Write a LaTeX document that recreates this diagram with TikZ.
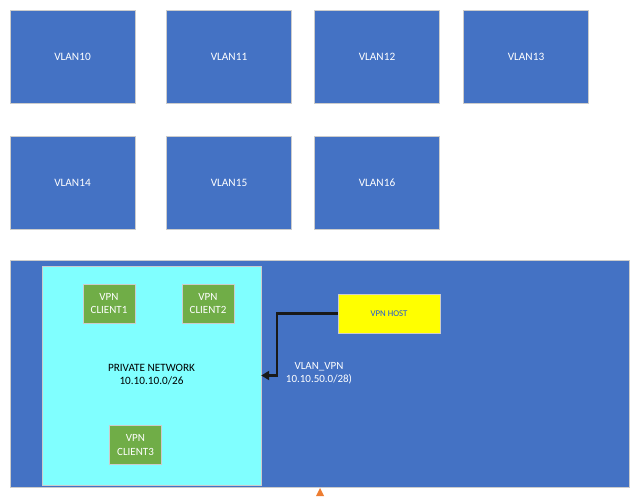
\documentclass[tikz,border=0pt]{standalone}
\usepackage{fontspec}
\setmainfont{Carlito}
\usetikzlibrary{arrows.meta}
\definecolor{vblue}{HTML}{4472C4}
\definecolor{vgreen}{HTML}{70AD47}
\definecolor{vcyan}{HTML}{80FFFF}
\definecolor{vyellow}{HTML}{FFFF00}
\definecolor{hosttext}{HTML}{1F55D8}
\definecolor{vorange}{HTML}{ED7D31}
\tikzset{
  vlanbox/.style={draw=black!20, fill=vblue, text=white, minimum width=125pt, minimum height=93pt, inner sep=0pt, font=\fontsize{11.3}{13}\selectfont},
  clientbox/.style={draw=black!20, fill=vgreen, text=white, minimum width=52pt, minimum height=39pt, inner sep=0pt, align=center, font=\fontsize{11}{13.5}\selectfont},
  wtext/.style={text=white, align=center, font=\fontsize{11}{13.5}\selectfont},
  btext/.style={text=black, align=center, font=\fontsize{11.2}{13.5}\selectfont},
  conn/.style={line width=2.2pt, draw=black!90, -{Triangle[length=8pt,width=9pt]}}
}
\begin{document}
\begin{tikzpicture}[x=1pt,y=-1pt]
\useasboundingbox[fill=white] (0,0) rectangle (643,500);
% VLAN boxes
\node[vlanbox] (v10) at (72.5,56.5) {VLAN10};
\node[vlanbox] (v11) at (229,56.5) {VLAN11};
\node[vlanbox] (v12) at (377,56.5) {VLAN12};
\node[vlanbox] (v13) at (526,56.5) {VLAN13};
\node[vlanbox] (v14) at (72.5,182.5) {VLAN14};
\node[vlanbox] (v15) at (229,182.5) {VLAN15};
\node[vlanbox] (v16) at (377,182.5) {VLAN16};
% VLAN_VPN area
\node[draw=black!20, fill=vblue, minimum width=619pt, minimum height=227pt, inner sep=0pt] (vpnarea) at (319.5,373.5) {};
\node[draw=black!20, fill=vcyan, minimum width=219pt, minimum height=219pt, inner sep=0pt] (priv) at (151.5,375.5) {};
\node[btext] (privlabel) at (151.5,374.5) {PRIVATE NETWORK\\10.10.10.0/26};
\node[clientbox] (c1) at (109,303.5) {VPN\\CLIENT1};
\node[clientbox] (c2) at (208,303.5) {VPN\\CLIENT2};
\node[clientbox] (c3) at (135.5,445) {VPN\\CLIENT3};
\node[draw=black!20, fill=vyellow, text=hosttext, minimum width=102pt, minimum height=39pt, inner sep=0pt, font=\fontsize{8.8}{10}\selectfont] (host) at (389,313.5) {VPN HOST};
\node[wtext] (vpnlabel) at (319,373) {VLAN\_VPN\\10.10.50.0/28)};
% connector
\coordinate (bend) at (277,313.5);
\draw[conn] (host.west) -- (bend) |- (priv.east);
% small orange marker
\fill[vorange] (320,488) -- (316,496) -- (324,496) -- cycle;
\end{tikzpicture}
\end{document}
